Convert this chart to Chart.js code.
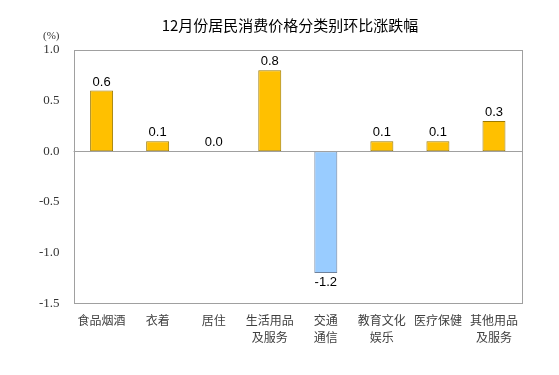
<!DOCTYPE html>
<html>
<head>
<meta charset="utf-8">
<style>
  html, body { margin: 0; padding: 0; background: #fff; }
  #wrap { width: 559px; height: 375px; }
</style>
<script src="https://cdn.jsdelivr.net/npm/chart.js@4"></script>
</head>
<body>
<div id="wrap"><canvas id="cpiChart" width="559" height="375"></canvas></div>
<script>
const categories = [
    '食品烟酒', '衣着', '居住', ['生活用品', '及服务'],
    ['交通', '通信'], ['教育文化', '娱乐'], '医疗保健', ['其他用品', '及服务']
];
const momChange = [0.6, 0.1, 0.0, 0.8, -1.2, 0.1, 0.1, 0.3];
const yTicks = [1.0, 0.5, 0.0, -0.5, -1.0, -1.5];

const titleText = '12月份居民消费价格分类别环比涨跌幅';

// bars below zero are blue, the rest gold
const fillColors = momChange.map(v => v < 0 ? '#99CCFF' : '#FFC000');
const edgeColors = momChange.map(v => v < 0 ? '#6F829C' : '#9C7A00');

const decorPlugin = {
    id: 'decor',
    afterDatasetsDraw(chart) {
        const ctx = chart.ctx;
        const area = chart.chartArea;
        const y = chart.scales.y;

        ctx.save();
        // plot frame and zero line
        ctx.strokeStyle = '#A0A0A0';
        ctx.lineWidth = 1;
        ctx.strokeRect(Math.round(area.left) + 0.5, Math.round(area.top) + 0.5,
            Math.round(area.right - area.left), Math.round(area.bottom - area.top));
        const zy = Math.round(y.getPixelForValue(0)) + 0.5;
        ctx.beginPath();
        ctx.moveTo(area.left, zy);
        ctx.lineTo(area.right, zy);
        ctx.stroke();

        // value labels
        ctx.fillStyle = '#000';
        ctx.font = '13px "Liberation Sans", Arial, sans-serif';
        ctx.textAlign = 'center';
        const meta = chart.getDatasetMeta(0);
        meta.data.forEach((bar, i) => {
            const v = momChange[i];
            if (v < 0) {
                ctx.textBaseline = 'top';
                ctx.fillText(v.toFixed(1), bar.x, bar.y + 3);
            } else {
                ctx.textBaseline = 'bottom';
                ctx.fillText(v.toFixed(1), bar.x, bar.y - 2);
            }
        });

        // unit label
        ctx.font = '11px "Liberation Serif", "Times New Roman", serif';
        ctx.fillStyle = '#333';
        ctx.textAlign = 'left';
        ctx.textBaseline = 'middle';
        ctx.fillText('(%)', 43, 36);

        // title
        ctx.font = '15px "Noto Sans CJK SC", sans-serif';
        ctx.fillStyle = '#000';
        ctx.textAlign = 'center';
        ctx.fillText(titleText, 290, 25);
        ctx.restore();
    }
};

new Chart(document.getElementById('cpiChart'), {
    type: 'bar',
    data: {
        labels: categories,
        datasets: [{
            data: momChange,
            backgroundColor: fillColors,
            borderColor: edgeColors,
            borderWidth: 1,
            borderSkipped: false,
            categoryPercentage: 1.0,
            barPercentage: 0.41
        }]
    },
    options: {
        responsive: false,
        animation: false,
        layout: {
            padding: { top: 50, right: 37, bottom: 20, left: 25 }
        },
        plugins: {
            legend: { display: false },
            tooltip: { enabled: false },
            title: { display: false }
        },
        scales: {
            x: {
                grid: { display: false, drawTicks: false },
                border: { display: false },
                ticks: {
                    color: '#404040',
                    font: { family: '"Noto Sans CJK SC", sans-serif', size: 12, lineHeight: 1.4 },
                    padding: 9,
                    maxRotation: 0,
                    autoSkip: false
                }
            },
            y: {
                min: -1.5,
                max: 1.0,
                afterBuildTicks(axis) {
                    axis.ticks = yTicks.map(v => ({ value: v }));
                },
                grid: { display: false, drawTicks: false },
                border: { display: false },
                ticks: {
                    color: '#333',
                    font: { family: '"Liberation Serif", "Times New Roman", serif', size: 13 },
                    padding: 14,
                    callback: v => Number(v).toFixed(1)
                }
            }
        }
    },
    plugins: [decorPlugin]
});
</script>
</body>
</html>
